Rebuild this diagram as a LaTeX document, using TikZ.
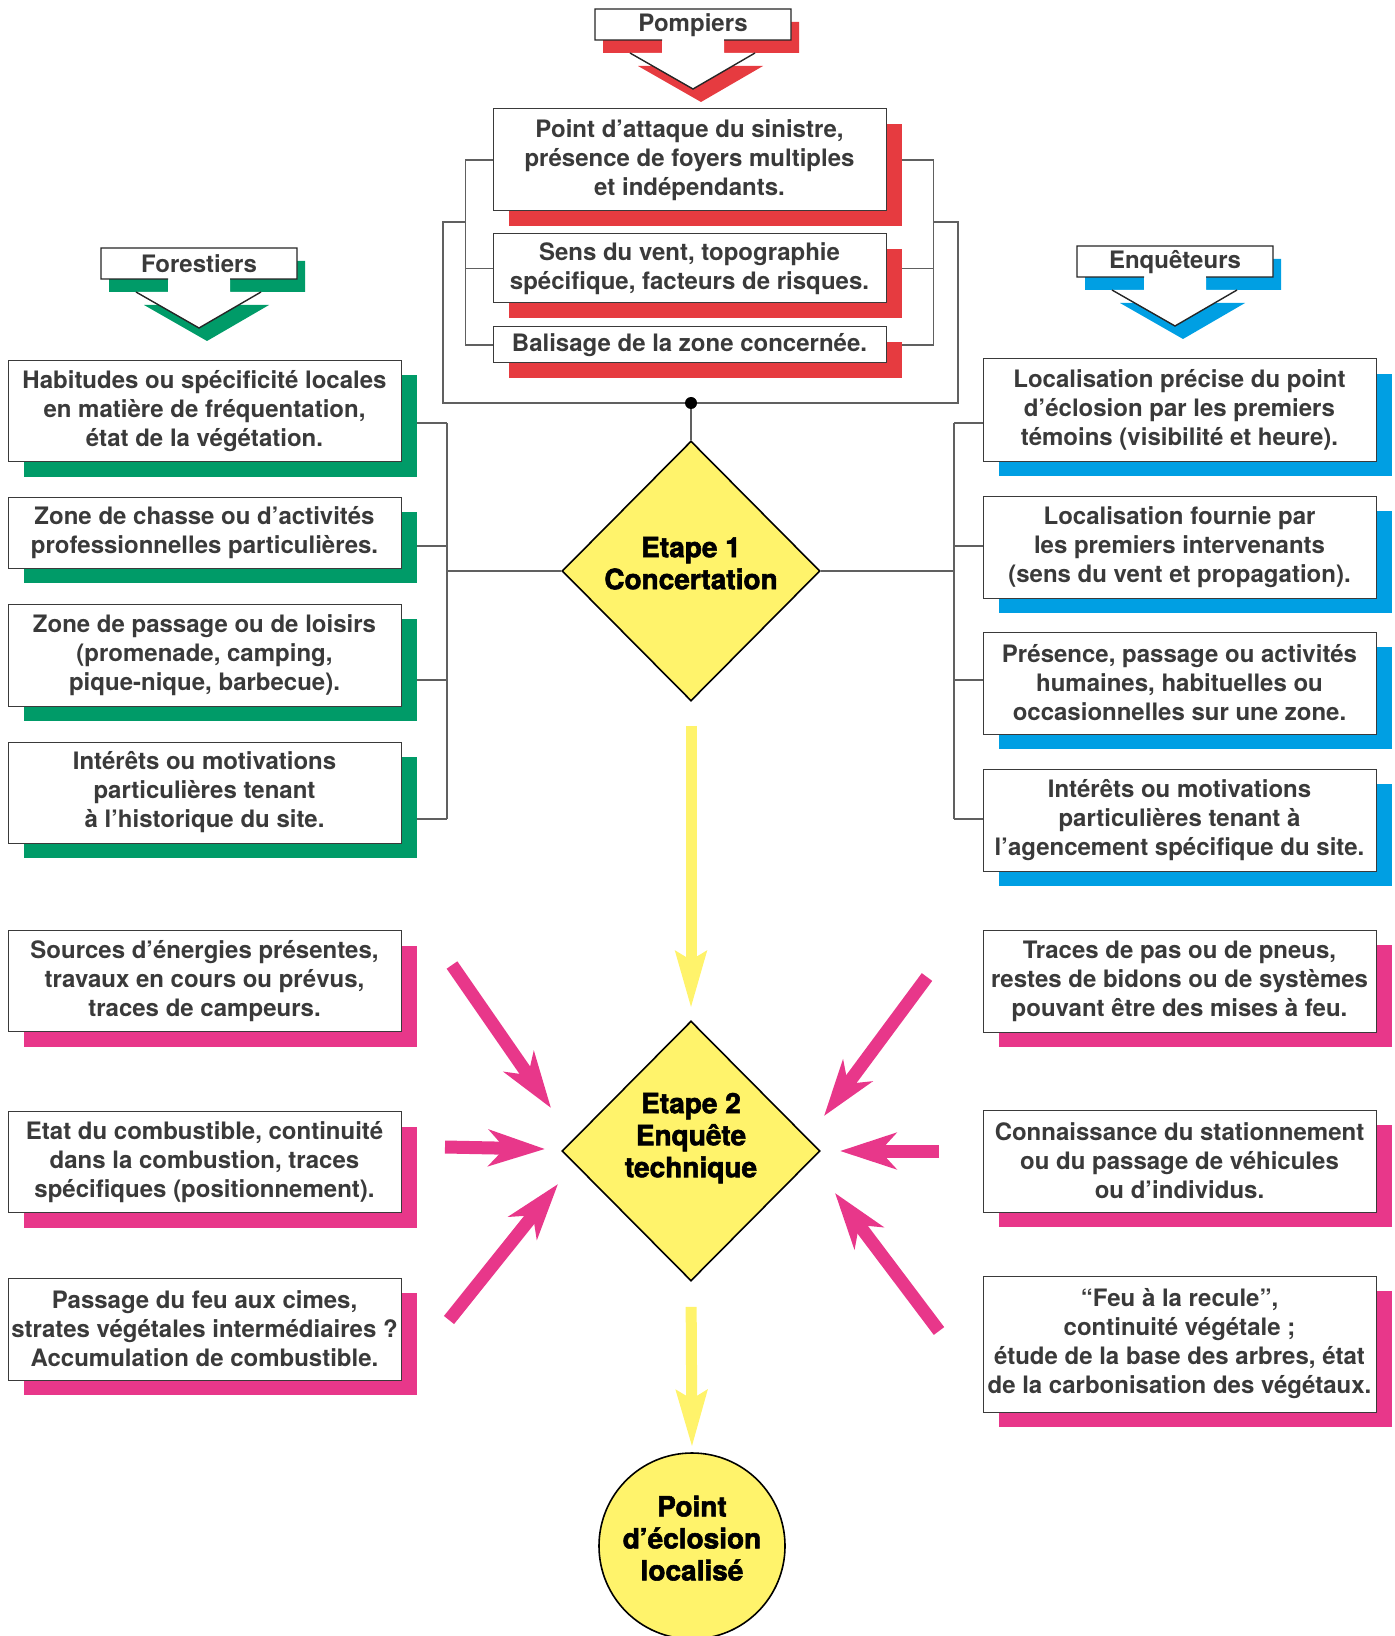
\documentclass[tikz,border=0pt]{standalone}
\usepackage{fontspec}
\setmainfont{TeX Gyre Heros}
\newfontfamily\heavyfont[BoldFeatures={FakeBold=2}]{TeX Gyre Heros}
\usetikzlibrary{arrows.meta, shapes.geometric, shadows, backgrounds}
\definecolor{cred}{HTML}{E63B40}
\definecolor{cgreen}{HTML}{009B68}
\definecolor{cblue}{HTML}{009FE3}
\definecolor{cpink}{HTML}{E8378A}
\definecolor{cyellow}{HTML}{FFF36B}
\definecolor{ctext}{HTML}{3A3A3A}
\definecolor{cwire}{HTML}{606060}
\tikzset{
  info/.style={draw=ctext, line width=0.5pt, fill=white, text=ctext, align=center,
    font=\fontsize{12}{14.5}\selectfont\bfseries, minimum width=196.5pt, inner xsep=1pt, inner ysep=2pt,
    drop shadow={shadow xshift=8pt, shadow yshift=-7.5pt, fill=#1, opacity=1}},
  info/.default=cwire,
  stage/.style={diamond, draw=black, line width=0.8pt, fill=cyellow, minimum width=129pt, minimum height=130pt,
    inner sep=0pt, align=center, font=\heavyfont\bfseries\fontsize{14}{16}\selectfont},
  goal/.style={circle, draw=black, line width=0.8pt, fill=cyellow, minimum size=93pt, inner sep=0pt,
    align=center, font=\heavyfont\bfseries\fontsize{14}{16}\selectfont},
  headline/.style={draw=black!85, line width=0.7pt},
  headtext/.style={text=ctext, font=\fontsize{12}{14.5}\selectfont\bfseries, inner sep=0pt},
  wire/.style={draw=cwire, line width=0.6pt},
  flow/.style={draw=cyellow, line width=5.5pt, -{Stealth[length=28pt, width=15pt, inset=4pt]}},
  hint/.style={draw=cpink, line width=6.5pt, -{Stealth[length=28pt, width=18pt, inset=8pt]}},
}
\begin{document}
\begin{tikzpicture}[x=0.5pt, y=-0.5pt]
  \useasboundingbox (0,0) rectangle (1394,1636);
  \newcommand{\teamhead}[5]{%
    \begin{scope}[shift={(#2,#3)}]
      \fill[#4] (-90,13) -- (106,13) -- (106,44) -- (39,44) -- (39,57) -- (70,57) -- (8,93)
        -- (-55,57) -- (-23,57) -- (-23,44) -- (-90,44) -- cycle;
      \fill[white] (-98,0) -- (98,0) -- (98,31) -- (31,31) -- (31,44) -- (62,44) -- (0,80)
        -- (-63,44) -- (-31,44) -- (-31,31) -- (-98,31) -- cycle;
      \draw[headline] (-31,31) -- (-98,31) -- (-98,0) -- (98,0) -- (98,31) -- (31,31)
        (-63,44) -- (0,80) -- (62,44);
      \node[headtext] (#1) at (0,16) {#5};
    \end{scope}}

  % who brings what
  \teamhead{pomp}{693}{9}{cred}{Pompiers}
  \teamhead{forest}{199}{248}{cgreen}{Forestiers}
  \teamhead{enq}{1175}{246}{cblue}{Enquêteurs}

  % pompiers
  \node[info=cred, minimum height=51pt] (att) at (689.5,160) {Point d’attaque du sinistre,\\présence de foyers multiples\\et indépendants.};
  \node[info=cred, minimum height=34.5pt] (vent) at (689.5,268.5) {Sens du vent, topographie\\spécifique, facteurs de risques.};
  \node[info=cred, minimum height=18pt] (bal) at (689.5,345) {Balisage de la zone concernée.};

  % forestiers
  \node[info=cgreen, minimum height=50.5pt] (hab) at (204.5,411) {Habitudes ou spécificité locales\\en matière de fréquentation,\\état de la végétation.};
  \node[info=cgreen, minimum height=35.5pt] (chasse) at (204.5,532.5) {Zone de chasse ou d’activités\\professionnelles particulières.};
  \node[info=cgreen, minimum height=51pt] (loisir) at (204.5,655) {Zone de passage ou de loisirs\\(promenade, camping,\\pique-nique, barbecue).};
  \node[info=cgreen, minimum height=50.5pt] (histo) at (204.5,792.5) {Intérêts ou motivations\\particulières tenant\\à l’historique du site.};

  % enqueteurs
  \node[info=cblue, minimum height=51pt] (precis) at (1179.5,410) {Localisation précise du point\\d’éclosion par les premiers\\témoins (visibilité et heure).};
  \node[info=cblue, minimum height=51pt] (fourni) at (1179.5,547) {Localisation fournie par\\les premiers intervenants\\(sens du vent et propagation).};
  \node[info=cblue, minimum height=51pt] (presence) at (1179.5,683) {Présence, passage ou activités\\humaines, habituelles ou\\occasionnelles sur une zone.};
  \node[info=cblue, minimum height=51pt] (agenc) at (1179.5,820) {Intérêts ou motivations\\particulières tenant à\\l’agencement spécifique du site.};

  % enquete technique
  \node[info=cpink, minimum height=50.5pt] (energie) at (204.5,981) {Sources d’énergies présentes,\\travaux en cours ou prévus,\\traces de campeurs.};
  \node[info=cpink, minimum height=50.5pt] (combust) at (204.5,1162) {Etat du combustible, continuité\\dans la combustion, traces\\spécifiques (positionnement).};
  \node[info=cpink, minimum height=51pt] (cimes) at (204.5,1329) {Passage du feu aux cimes,\\strates végétales intermédiaires ?\\Accumulation de combustible.};
  \node[info=cpink, minimum height=51pt] (traces) at (1179.5,981) {Traces de pas ou de pneus,\\restes de bidons ou de systèmes\\pouvant être des mises à feu.};
  \node[info=cpink, minimum height=51pt] (station) at (1179.5,1161) {Connaissance du stationnement\\ou du passage de véhicules\\ou d’individus.};
  \node[info=cpink, minimum height=68pt] (recule) at (1179.5,1344) {“Feu à la recule”,\\continuité végétale ;\\étude de la base des arbres, état\\de la carbonisation des végétaux.};

  % steps
  \node[stage] (etape1) at (691,571) {Etape 1\\Concertation\\[-8pt]\mbox{}};
  \node[stage] (etape2) at (691,1151) {Etape 2\\Enquête\\technique\\\mbox{}};
  \node[goal] (eclos) at (692,1546) {Point\\d’éclosion\\localisé\\[-8pt]\mbox{}};

  \begin{scope}[on background layer]
    \coordinate (pjl) at (466,222);
    \coordinate (pjr) at (933,222);
    \coordinate (hub) at (691,403);
    \draw[wire] (att.west) -- ++(-27,0) |- (bal.west);
    \draw[wire] (vent.west) -- ++(-27,0);
    \draw[wire] (att.east) -- ++(47,0) |- (bal.east);
    \draw[wire] (vent.east) -- ++(47,0);
    \draw[wire] (pjl) -- ++(-23,0) |- (hub);
    \draw[wire] (pjr) -- ++(25,0) |- (hub);
    \draw[wire] (hub) -- (etape1.north);

    \foreach \y [count=\i] in {423,546,680,819} {
      \coordinate (lb\i) at (447,\y);
      \coordinate (rb\i) at (954,\y);
    }
    \foreach \n [count=\i] in {hab,chasse,loisir,histo} \draw[wire] (lb\i) -- (lb\i -| \n.east);
    \foreach \n [count=\i] in {precis,fourni,presence,agenc} \draw[wire] (rb\i) -- (rb\i -| \n.west);
    \draw[wire] (lb1) -- (lb4);
    \draw[wire] (rb1) -- (rb4);
    \draw[wire] (lb1 |- etape1) -- (etape1.west);
    \draw[wire] (rb1 |- etape1) -- (etape1.east);
  \end{scope}
  \fill[black] (hub) circle (3pt);

  % flow between steps
  \draw[flow, shorten <=12pt, shorten >=6pt] (etape1.south) -- (etape2.north);
  \draw[flow, shorten <=12.5pt, shorten >=2.5pt] (etape2.south) -- (eclos.north);

  % clues pointing to step 2
  \coordinate (a-l1) at (452,965);  \coordinate (b-l1) at (551,1108);
  \coordinate (a-l2) at (445,1147); \coordinate (b-l2) at (545,1149);
  \coordinate (a-l3) at (449,1320); \coordinate (b-l3) at (558,1184);
  \coordinate (a-r1) at (927,977);  \coordinate (b-r1) at (824,1116);
  \coordinate (a-r2) at (939,1151); \coordinate (b-r2) at (840,1151);
  \coordinate (a-r3) at (939,1331); \coordinate (b-r3) at (835,1193);
  \foreach \c in {l1,l2,l3,r1,r2,r3} \draw[hint] (a-\c) -- (b-\c);
\end{tikzpicture}
\end{document}
